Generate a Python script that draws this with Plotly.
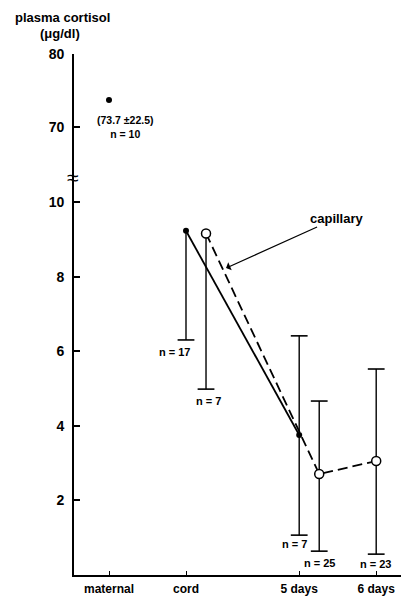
import plotly.graph_objects as go

# ---------------- data ----------------
categories = ["maternal", "cord", "5 days", "6 days"]

maternal_mean = 73.7
maternal_sd = 22.5
maternal_n = 10

# umbilical cord / venous blood (filled dots): cord, 5 days
blood_means = [9.24, 3.76]
blood_err_plus = [0.0, 2.66]
blood_err_minus = [2.93, 2.69]
blood_n = [17, 7]

# capillary blood (open circles): cord, 5 days, 6 days
cap_means = [9.17, 2.71, 3.06]
cap_err_plus = [0.0, 1.96, 2.47]
cap_err_minus = [4.18, 2.07, 2.50]
cap_n = [7, 25, 23]

upper_ticks = [70, 80]
lower_ticks = [2, 4, 6, 8, 10]

# ---------------- layout helpers ----------------
cat_x = [0, 1, 2.47, 3.47]          # positions of the categories on the x axis
cap_offset = 0.26                   # capillary points drawn slightly right
blood_x = [cat_x[1], cat_x[2]]
cap_x = [cat_x[1] + cap_offset, cat_x[2] + cap_offset, cat_x[3]]

FONT = "Liberation Sans, Arial, sans-serif"
BLACK = "black"

fig = go.Figure()


def add_errorbars(xs, ys, plus, minus):
    # whiskers
    fig.add_trace(go.Scatter(
        x=xs, y=ys, mode="markers",
        marker=dict(size=1, color="rgba(0,0,0,0)"),
        error_y=dict(type="data", symmetric=False, array=plus, arrayminus=minus,
                     width=0, thickness=1.4, color=BLACK),
        hoverinfo="skip", showlegend=False))
    # caps
    cx, cy = [], []
    for x, y, p, m in zip(xs, ys, plus, minus):
        if p > 0:
            cx.append(x); cy.append(y + p)
        if m > 0:
            cx.append(x); cy.append(y - m)
    fig.add_trace(go.Scatter(
        x=cx, y=cy, mode="markers",
        marker=dict(symbol="line-ew", size=12, line=dict(width=1.6, color=BLACK)),
        hoverinfo="skip", showlegend=False))


add_errorbars(blood_x, blood_means, blood_err_plus, blood_err_minus)
add_errorbars(cap_x, cap_means, cap_err_plus, cap_err_minus)

# lines
fig.add_trace(go.Scatter(x=blood_x, y=blood_means, mode="lines",
                         line=dict(color=BLACK, width=1.8),
                         hoverinfo="skip", showlegend=False))
fig.add_trace(go.Scatter(x=cap_x, y=cap_means, mode="lines",
                         line=dict(color=BLACK, width=1.8, dash="10px,5px"),
                         hoverinfo="skip", showlegend=False))

# points
fig.add_trace(go.Scatter(x=blood_x, y=blood_means, mode="markers",
                         marker=dict(size=6, color=BLACK),
                         hoverinfo="skip", showlegend=False))
fig.add_trace(go.Scatter(x=cap_x, y=cap_means, mode="markers",
                         marker=dict(size=9, color="white", line=dict(width=1.5, color=BLACK)),
                         hoverinfo="skip", showlegend=False))
fig.add_trace(go.Scatter(x=[cat_x[0]], y=[maternal_mean], mode="markers",
                         marker=dict(size=6, color=BLACK), yaxis="y2",
                         hoverinfo="skip", showlegend=False))

ann = []
nfont = dict(family=FONT, size=11, color=BLACK)

# n labels under the lower ends of the bars
n_shift = {  # (xshift, yshift) in px
    ("b", 0): (-11, -12), ("b", 1): (-5, -9),
    ("c", 0): (2, -12), ("c", 1): (1, -12), ("c", 2): (0, -10),
}
for i, (x, y, m, n) in enumerate(zip(blood_x, blood_means, blood_err_minus, blood_n)):
    xs, ys = n_shift[("b", i)]
    ann.append(dict(x=x, y=y - m, xref="x", yref="y", text=f"<b>n = {n}</b>", showarrow=False,
                    xshift=xs, yshift=ys, font=nfont))
for i, (x, y, m, n) in enumerate(zip(cap_x, cap_means, cap_err_minus, cap_n)):
    xs, ys = n_shift[("c", i)]
    ann.append(dict(x=x, y=y - m, xref="x", yref="y", text=f"<b>n = {n}</b>", showarrow=False,
                    xshift=xs, yshift=ys, font=nfont))

# maternal text
ann.append(dict(x=cat_x[0], y=maternal_mean, xref="x", yref="y2",
                text=f"<b>({maternal_mean} ±{maternal_sd})</b><br><b>n = {maternal_n}</b>",
                showarrow=False, align="center",
                xshift=16, yshift=-27, font=dict(family=FONT, size=10.5, color=BLACK)))

# capillary arrow
ann.append(dict(x=1.52, y=8.24, xref="x", yref="y", text="<b>capillary</b>",
                showarrow=True, axref="pixel", ayref="pixel", ax=111, ay=-50,
                arrowhead=1, arrowsize=1.2, arrowwidth=1.2, arrowcolor=BLACK,
                font=dict(family=FONT, size=13, color=BLACK)))

# axis title
ann.append(dict(x=-0.0, y=1.0, xref="paper", yref="paper", text="<b>plasma cortisol</b>",
                showarrow=False, xanchor="center", yanchor="middle",
                xshift=-12, yshift=37, font=dict(family=FONT, size=13, color=BLACK)))
ann.append(dict(x=-0.0, y=1.0, xref="paper", yref="paper", text="<b>(μg/dl)</b>",
                showarrow=False, xanchor="center", yanchor="middle",
                xshift=-14, yshift=21, font=dict(family=FONT, size=13, color=BLACK)))

split = 0.7543

# axis break mark
ann.append(dict(x=0, y=split, xref="paper", yref="paper", text="≈",
                showarrow=False, xanchor="center", yanchor="middle", xshift=-1, yshift=5,
                font=dict(family=FONT, size=21, color=BLACK)))

axis_common = dict(showline=True, linecolor=BLACK, linewidth=1.8, ticks="inside",
                   tickcolor=BLACK, tickwidth=1.5, showgrid=False, zeroline=False,
                   tickfont=dict(family=FONT, size=14, color=BLACK))

fig.update_layout(
    width=401, height=596,
    margin=dict(l=74, r=0, t=54, b=21),
    paper_bgcolor="white", plot_bgcolor="white",
    showlegend=False,
    xaxis=dict(range=[-0.4545, 3.792], tickvals=cat_x,
               ticktext=[f"<b>{c}</b>" for c in categories],
               showline=True, linecolor=BLACK, linewidth=1.6, ticks="inside",
               ticklen=4, tickcolor=BLACK, tickwidth=1.4, showgrid=False, zeroline=False,
               tickfont=dict(family=FONT, size=12, color=BLACK), anchor="y",
               ticklabelstandoff=2),
    yaxis=dict(domain=[0, split], range=[0, 10.55], tickvals=lower_ticks,
               ticktext=[f"<b>{t}</b>" for t in lower_ticks],
               ticklen=6, anchor="x", ticklabelstandoff=5, **axis_common),
    yaxis2=dict(domain=[split, 1], range=[62.47, 80], tickvals=upper_ticks,
                ticktext=[f"<b>{t}</b>" for t in upper_ticks],
                ticklen=6, anchor="x", ticklabelstandoff=5, **axis_common),
    annotations=ann,
)

fig.write_html("out.html")
